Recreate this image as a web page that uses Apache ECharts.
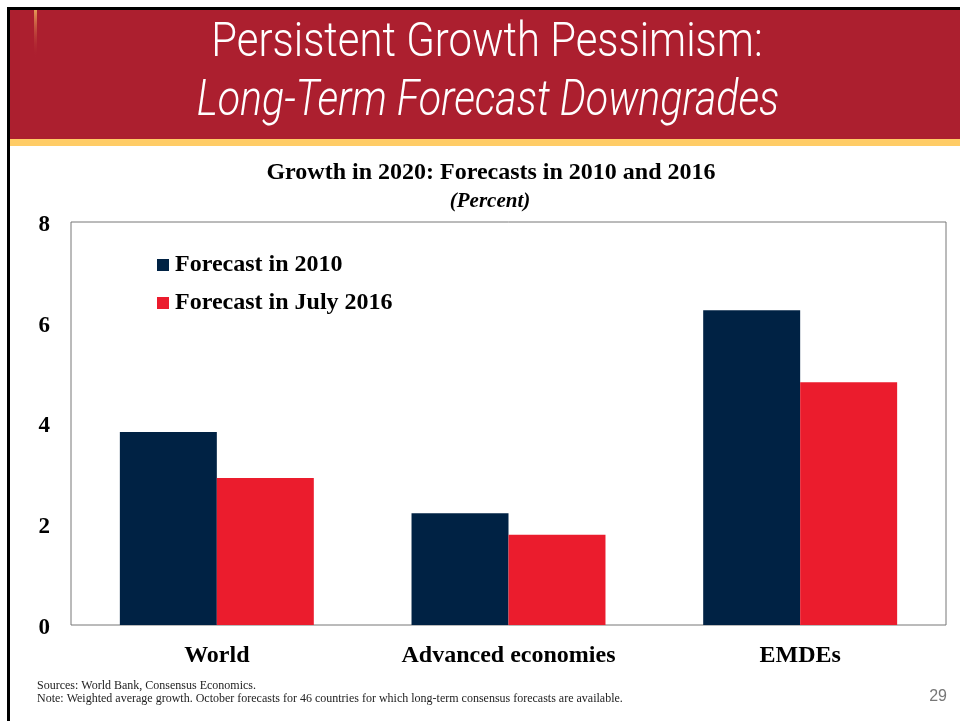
<!DOCTYPE html>
<html><head><meta charset="utf-8">
<script src="https://cdn.jsdelivr.net/npm/echarts@6/dist/echarts.min.js"></script>
<style>html,body{margin:0;padding:0;background:#fff}#c{width:960px;height:721px}</style>
</head><body><div id="c"></div>
<script>
var categories = ['World', 'Advanced economies', 'EMDEs'];
var seriesNames = ['Forecast in 2010', 'Forecast in July 2016'];
var forecast2010 = [3.83, 2.22, 6.25];
var forecast2016 = [2.92, 1.79, 4.82];
var yTicks = [0, 2, 4, 6, 8];

var chart = echarts.init(document.getElementById('c'), null, {renderer: 'canvas'});
var serif = '"Liberation Serif","Times New Roman",serif';
var option = {
  backgroundColor: '#fff',
  animation: false,
  title: [
    {text: 'Growth in 2020: Forecasts in 2010 and 2016', left: 486, top: 156, textAlign: 'center',
     textStyle: {fontFamily: serif, fontWeight: 'bold', fontSize: 24, color: '#000'}},
    {text: '(Percent)', left: 485, top: 186, textAlign: 'center',
     textStyle: {fontFamily: serif, fontWeight: 'bold', fontStyle: 'italic', fontSize: 21, color: '#000'}}
  ],
  legend: {
    orient: 'vertical', left: 157, top: 253, padding: 0, itemGap: 14, itemWidth: 12, itemHeight: 12,
    icon: 'rect', itemStyle: {borderWidth: 0},
    textStyle: {fontFamily: serif, fontWeight: 'bold', fontSize: 24, color: '#000', padding: [0,0,0,1]},
    data: seriesNames
  },
  grid: {left: 71, right: 14, top: 222, bottom: 96, show: true, borderColor: '#777', borderWidth: 1},
  xAxis: {
    type: 'category', data: categories,
    axisLine: {show: false}, axisTick: {show: false},
    axisLabel: {fontFamily: serif, fontWeight: 'bold', fontSize: 24, color: '#000', margin: 19}
  },
  yAxis: {
    type: 'value', min: yTicks[0], max: yTicks[yTicks.length-1], interval: 2,
    splitLine: {show: false}, axisLine: {show: false}, axisTick: {show: false},
    axisLabel: {color: '#000', margin: 21,
      formatter: function(v){ return yTicks.indexOf(v) >= 0 ? '{a|' + v + '}' : ''; },
      rich: {a: {fontFamily: serif, fontWeight: 'bold', fontSize: 23, color: '#000', padding: [6,0,0,0]}}}
  },
  series: [
    {name: seriesNames[0], type: 'bar', data: forecast2010, barGap: '0%', barCategoryGap: '33.5%',
     itemStyle: {color: '#002244'}},
    {name: seriesNames[1], type: 'bar', data: forecast2016, barGap: '0%', barCategoryGap: '33.5%',
     itemStyle: {color: '#EB1C2D'}}
  ],
  graphic: [
    {type: 'rect', shape: {x: 8, y: 8, width: 960, height: 132}, style: {fill: '#AC1F2F'}, z: -1},
    {type: 'rect', shape: {x: 8, y: 139, width: 960, height: 7}, style: {fill: '#FFCC66'}, z: -1},
    {type: 'rect', shape: {x: 34, y: 10, width: 3, height: 48},
     style: {fill: new echarts.graphic.LinearGradient(0,0,0,1,[{offset:0,color:'#E59A55'},{offset:1,color:'rgba(172,31,47,0)'}])}},
    {type: 'line', shape: {x1: 8.5, y1: 8, x2: 8.5, y2: 721}, style: {stroke: '#000', lineWidth: 3}},
    {type: 'line', shape: {x1: 7, y1: 8.5, x2: 960, y2: 8.5}, style: {stroke: '#000', lineWidth: 3}},
    {type: 'text', x: 487, y: 44, scaleX: 0.854, style: {text: 'Persistent Growth Pessimism:', fill: '#fff',
      font: '300 49px Roboto,"Liberation Sans",sans-serif', textAlign: 'center', textVerticalAlign: 'middle'}},
    {type: 'text', x: 488, y: 103, scaleX: 0.839, style: {text: 'Long-Term Forecast Downgrades', fill: '#fff',
      font: 'italic 300 49px Roboto,"Liberation Sans",sans-serif', textAlign: 'center', textVerticalAlign: 'middle'}},
    {type: 'text', x: 37, y: 680, style: {text: 'Sources: World Bank, Consensus Economics.', fill: '#222',
      font: '12px "Liberation Serif","Times New Roman",serif'}},
    {type: 'text', x: 37, y: 693, style: {text: 'Note: Weighted average growth. October forecasts for 46 countries for which long-term consensus forecasts are available.', fill: '#222',
      font: '12px "Liberation Serif","Times New Roman",serif'}},
    {type: 'text', x: 947, y: 689, style: {text: '29', fill: '#777', textAlign: 'right',
      font: '16px "Liberation Sans",Arial,sans-serif'}}
  ]
};
chart.setOption(option);
</script></body></html>
